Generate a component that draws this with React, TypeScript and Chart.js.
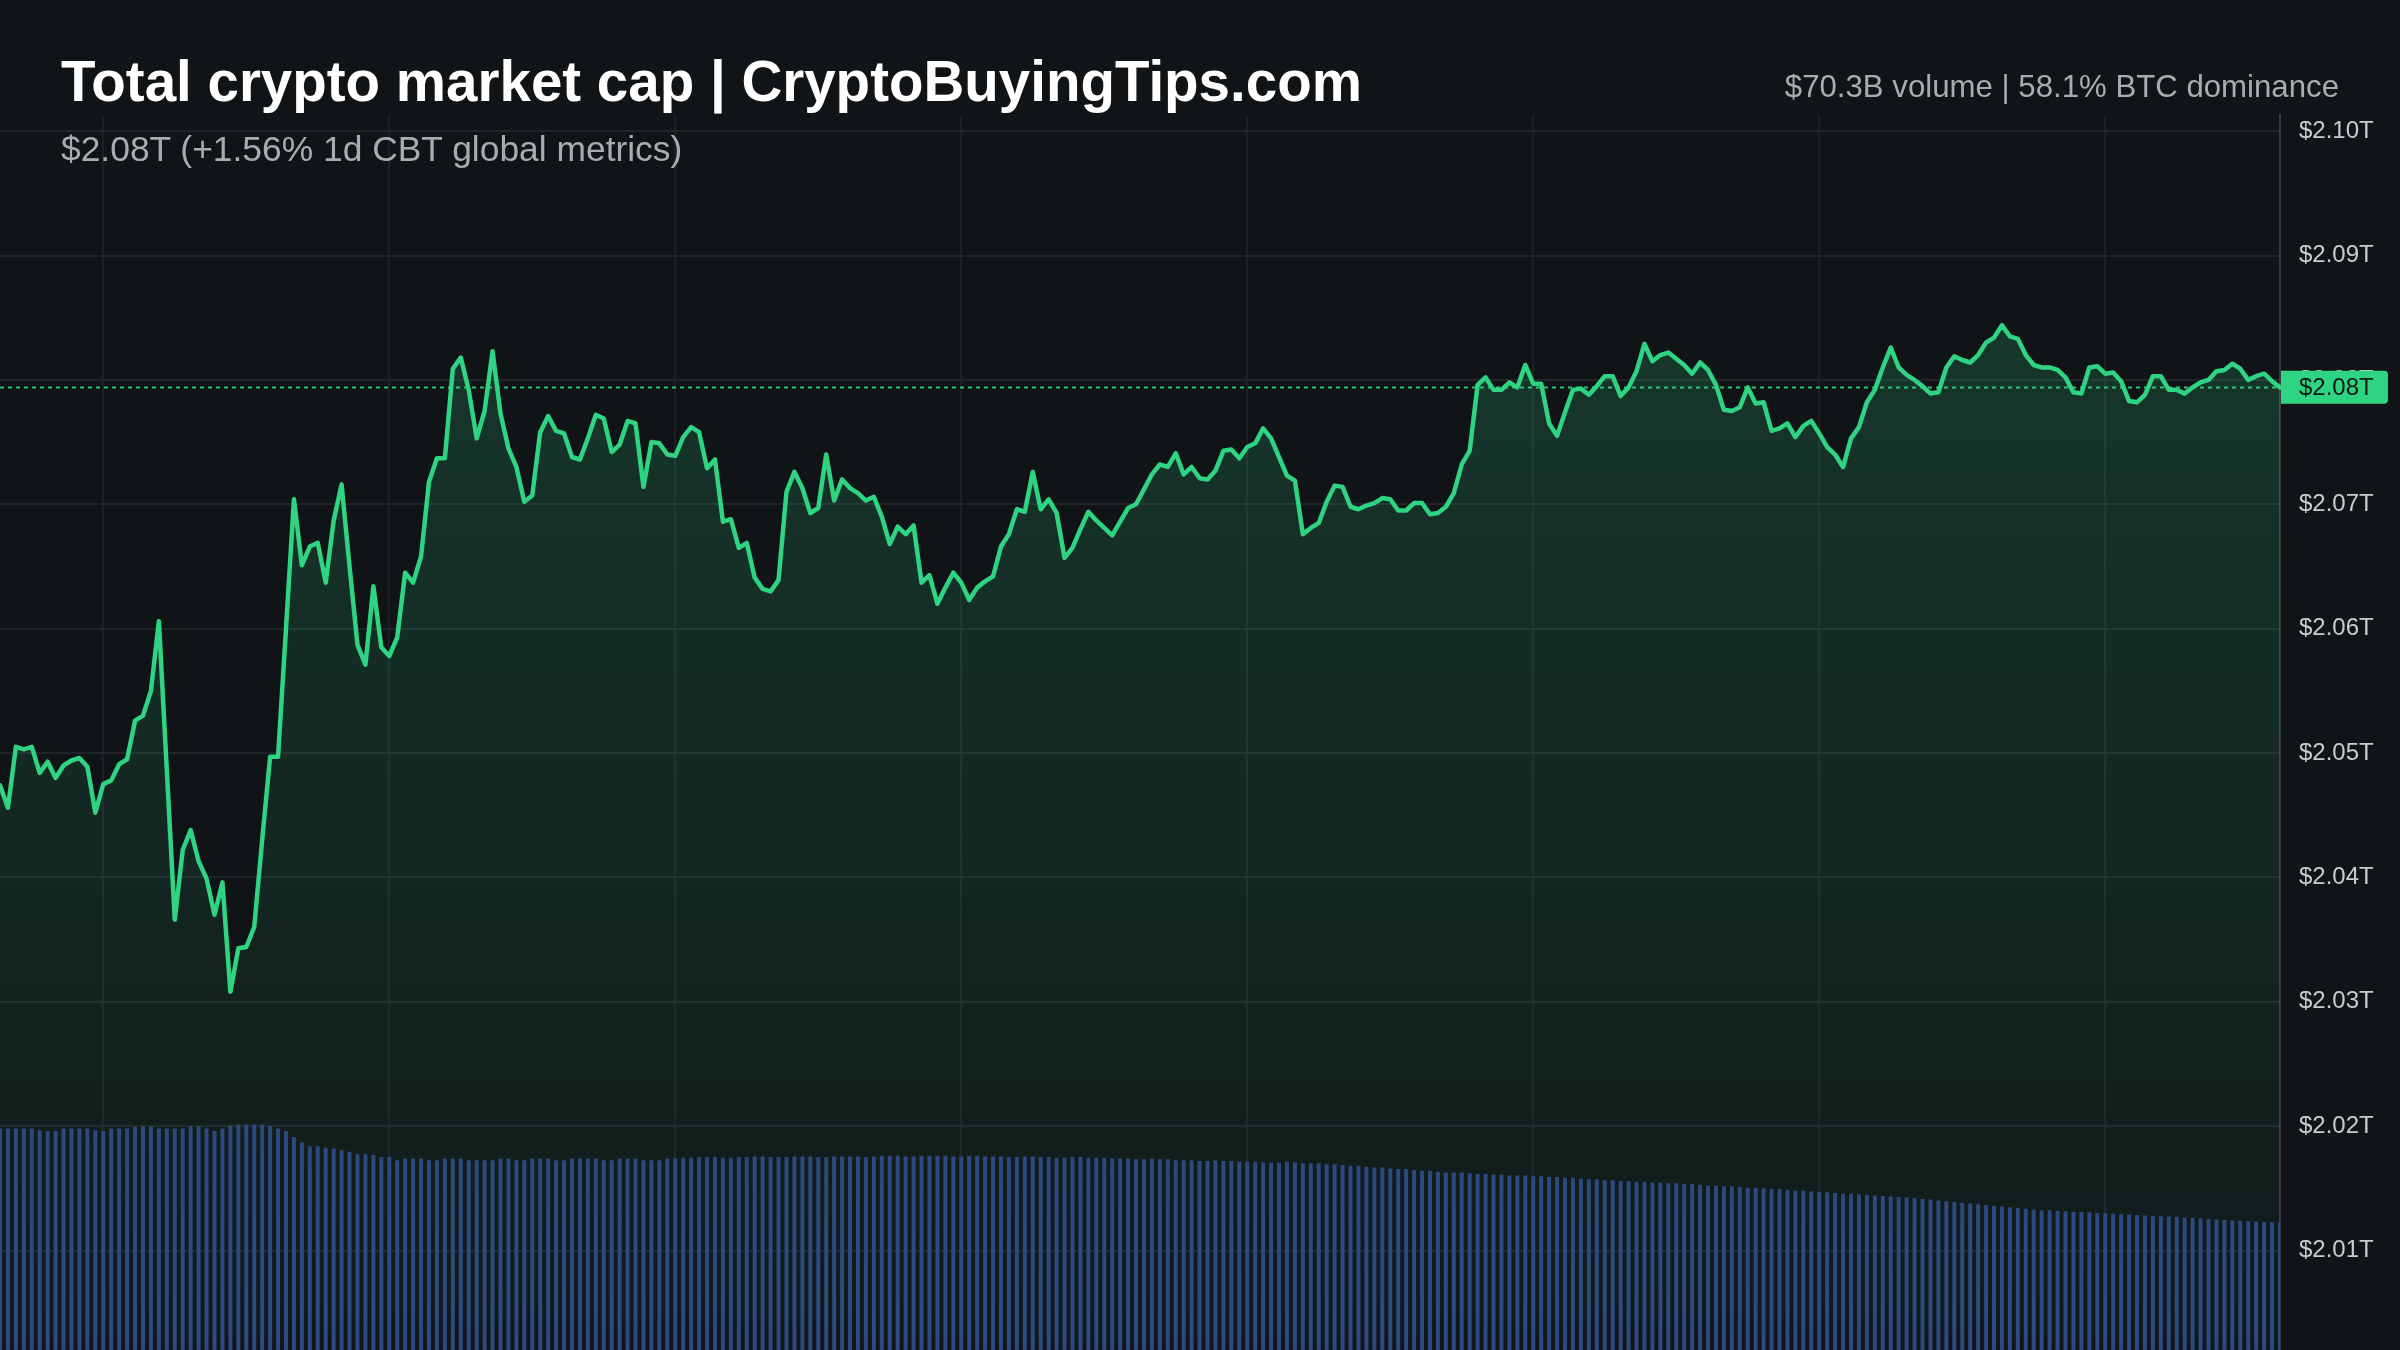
import React, { useEffect, useRef } from 'react';
import { Chart, registerables } from 'chart.js';

Chart.register(...registerables);

// ---- Data -----------------------------------------------------------------
const TITLE = 'Total crypto market cap | CryptoBuyingTips.com';
const SUBTITLE = '$2.08T (+1.56% 1d CBT global metrics)';
const RIGHT_INFO = '$70.3B volume | 58.1% BTC dominance';

// 5-minute samples over the last 24 hours, first sample at 22:55
const START_TIME_MIN = 22 * 60 + 55;
const STEP_MIN = 5;
const GRID_EVERY_MIN = 180;

// Total market cap, trillions USD
const marketCapT = [
  2.0474, 2.0456, 2.0505, 2.0503, 2.0505, 2.0484, 2.0493, 2.0480, 2.0490, 2.0494,
  2.0496, 2.0489, 2.0452, 2.0475, 2.0478, 2.0491, 2.0495, 2.0526, 2.0530, 2.0550,
  2.0606, 2.0486, 2.0366, 2.0422, 2.0438, 2.0413, 2.0399, 2.0370, 2.0396, 2.0308,
  2.0343, 2.0344, 2.0360, 2.0430, 2.0497, 2.0497, 2.0600, 2.0704, 2.0651, 2.0666,
  2.0669, 2.0637, 2.0687, 2.0716, 2.0650, 2.0587, 2.0571, 2.0634, 2.0585, 2.0578,
  2.0593, 2.0645, 2.0637, 2.0658, 2.0718, 2.0737, 2.0737, 2.0809, 2.0818, 2.0792,
  2.0753, 2.0775, 2.0823, 2.0773, 2.0745, 2.0730, 2.0702, 2.0707, 2.0758, 2.0771,
  2.0759, 2.0757, 2.0738, 2.0736, 2.0753, 2.0772, 2.0769, 2.0742, 2.0748, 2.0767,
  2.0765, 2.0714, 2.0750, 2.0749, 2.0740, 2.0739, 2.0754, 2.0762, 2.0758, 2.0729,
  2.0736, 2.0686, 2.0688, 2.0665, 2.0669, 2.0641, 2.0632, 2.0630, 2.0639, 2.0710,
  2.0726, 2.0713, 2.0693, 2.0697, 2.0740, 2.0703, 2.0720, 2.0713, 2.0709, 2.0703,
  2.0706, 2.0690, 2.0668, 2.0682, 2.0676, 2.0683, 2.0637, 2.0643, 2.0620, 2.0633,
  2.0645, 2.0637, 2.0623, 2.0633, 2.0638, 2.0642, 2.0666, 2.0676, 2.0696, 2.0694,
  2.0726, 2.0696, 2.0704, 2.0693, 2.0657, 2.0665, 2.0680, 2.0694, 2.0687, 2.0681,
  2.0675, 2.0686, 2.0697, 2.0700, 2.0712, 2.0724, 2.0732, 2.0730, 2.0741, 2.0724,
  2.0730, 2.0721, 2.0720, 2.0727, 2.0743, 2.0744, 2.0737, 2.0746, 2.0749, 2.0761,
  2.0753, 2.0738, 2.0723, 2.0719, 2.0676, 2.0681, 2.0685, 2.0702, 2.0715, 2.0714,
  2.0698, 2.0696, 2.0699, 2.0701, 2.0705, 2.0704, 2.0695, 2.0695, 2.0701, 2.0701,
  2.0692, 2.0693, 2.0698, 2.0709, 2.0732, 2.0743, 2.0796, 2.0802, 2.0792, 2.0792,
  2.0798, 2.0794, 2.0812, 2.0797, 2.0797, 2.0765, 2.0755, 2.0774, 2.0792, 2.0793,
  2.0788, 2.0795, 2.0803, 2.0803, 2.0787, 2.0794, 2.0807, 2.0829, 2.0815, 2.0820,
  2.0822, 2.0817, 2.0812, 2.0805, 2.0814, 2.0808, 2.0796, 2.0776, 2.0775, 2.0778,
  2.0794, 2.0781, 2.0782, 2.0759, 2.0761, 2.0765, 2.0754, 2.0763, 2.0767, 2.0757,
  2.0746, 2.0740, 2.0730, 2.0753, 2.0762, 2.0782, 2.0792, 2.0810, 2.0826, 2.0810,
  2.0804, 2.0800, 2.0795, 2.0789, 2.0790, 2.0810, 2.0819, 2.0816, 2.0814, 2.0820,
  2.0830, 2.0834, 2.0844, 2.0835, 2.0833, 2.0820, 2.0812, 2.0810, 2.0810, 2.0808,
  2.0802, 2.0790, 2.0789, 2.0810, 2.0811, 2.0805, 2.0806, 2.0799, 2.0783, 2.0782,
  2.0788, 2.0803, 2.0803, 2.0792, 2.0792, 2.0789, 2.0794, 2.0798, 2.0800, 2.0807,
  2.0808, 2.0813, 2.0809, 2.0800, 2.0803, 2.0805, 2.0799, 2.0794,
];

// Rolling 24h volume, billions USD
const volumeB = [
  121.9, 121.9, 121.9, 121.9, 121.9, 121.0, 120.6, 120.6, 121.9, 121.9,
  121.9, 121.9, 121.0, 120.6, 121.9, 121.9, 121.9, 122.8, 123.2, 123.2,
  121.9, 121.9, 121.9, 121.9, 123.2, 123.2, 121.9, 120.6, 121.9, 123.6,
  124.1, 124.1, 124.1, 124.1, 123.2, 121.9, 120.6, 117.3, 114.2, 112.2,
  112.2, 111.3, 110.9, 110.0, 109.1, 107.8, 107.8, 107.3, 106.3, 106.3,
  104.5, 105.4, 105.4, 105.4, 104.5, 104.5, 105.4, 105.4, 105.4, 104.5,
  104.5, 104.5, 104.5, 105.4, 105.4, 104.5, 104.5, 105.4, 105.4, 105.4,
  104.5, 104.5, 105.4, 105.4, 105.4, 105.4, 104.5, 104.5, 105.4, 105.4,
  105.4, 104.5, 104.5, 104.5, 105.4, 105.4, 105.8, 105.8, 106.2, 106.2,
  106.2, 105.8, 105.8, 106.2, 106.2, 106.6, 106.6, 106.2, 106.2, 106.2,
  106.6, 106.6, 106.6, 106.2, 106.2, 106.6, 106.6, 106.6, 106.6, 106.2,
  106.6, 107.0, 107.0, 107.0, 106.6, 106.6, 107.0, 107.0, 107.0, 107.0,
  106.6, 106.6, 107.0, 107.0, 106.6, 106.6, 106.6, 106.2, 106.2, 106.6,
  106.6, 106.2, 106.2, 105.8, 105.8, 106.2, 106.2, 105.8, 105.8, 105.8,
  105.4, 105.4, 105.4, 105.0, 105.0, 105.4, 105.0, 105.0, 104.5, 104.5,
  104.5, 104.1, 104.1, 104.5, 104.1, 104.1, 103.6, 103.6, 103.6, 103.2,
  103.2, 103.2, 103.6, 103.2, 102.8, 102.8, 102.8, 102.3, 102.3, 101.8,
  101.4, 101.4, 100.9, 100.5, 100.5, 100.0, 99.6, 99.6, 99.1, 98.7,
  98.7, 98.2, 97.8, 97.8, 97.8, 97.3, 96.9, 96.9, 96.5, 96.5,
  96.1, 96.1, 96.1, 95.6, 95.6, 95.2, 95.2, 94.8, 94.8, 94.4,
  94.0, 94.0, 93.5, 93.5, 93.1, 93.1, 92.7, 92.7, 92.2, 92.2,
  91.8, 91.8, 91.4, 91.4, 91.0, 90.6, 90.6, 90.2, 90.2, 89.8,
  89.4, 89.4, 89.0, 88.6, 88.6, 88.2, 87.8, 87.8, 87.3, 87.0,
  86.8, 86.5, 86.1, 86.1, 85.7, 85.4, 85.1, 84.8, 84.5, 84.2,
  84.0, 83.6, 83.2, 82.8, 82.3, 81.9, 81.5, 81.0, 80.6, 80.2,
  79.8, 79.4, 79.0, 78.6, 78.2, 77.8, 77.4, 77.0, 76.9, 76.6,
  76.4, 76.1, 76.0, 75.8, 75.5, 75.3, 75.0, 74.8, 74.6, 74.3,
  74.1, 73.9, 73.7, 73.5, 73.3, 73.0, 72.8, 72.5, 72.2, 71.9,
  71.6, 71.3, 71.1, 70.9, 70.7, 70.5, 70.4, 70.3,
];

// Right axis tick values (trillions)
const yTickValues = [2.01, 2.02, 2.03, 2.04, 2.05, 2.06, 2.07, 2.08, 2.09, 2.1];
const Y_MIN = 2.002;
const Y_MAX = 2.1013;
const VOLUME_AXIS_MAX = 680;

// ---- Styles ---------------------------------------------------------------
const BG = '#111417';
const GREEN = '#2fd483';
const BAR_BLUE = '#2d4a7e';
const GRID_H = '#202428';
const GRID_V = '#1c2024';
const AXIS_BORDER = '#383c42';
const TICK_COLOR = '#c8ccd2';
const FONT = '"Liberation Sans", Arial, Helvetica, sans-serif';

const pad = (n: number) => String(n).padStart(2, '0');
const minuteOf = (i: number) => (START_TIME_MIN + i * STEP_MIN) % 1440;
const labels = marketCapT.map((_, i) => {
  const m = minuteOf(i);
  return `${pad(Math.floor(m / 60))}:${pad(m % 60)}`;
});
const isGridIndex = (i: number) => minuteOf(i) % GRID_EVERY_MIN === 0;
const fmtT = (v: number) => `$${v.toFixed(2)}T`;

const lastValuePlugin = {
  id: 'lastValue',
  beforeDatasetsDraw(chart: any) {
    const { ctx, chartArea, scales } = chart;
    const last = marketCapT[marketCapT.length - 1];
    const y = Math.round(scales.y.getPixelForValue(last)) + 0.5;
    ctx.save();
    ctx.strokeStyle = 'rgba(47,212,131,0.9)';
    ctx.lineWidth = 2;
    ctx.setLineDash([4, 4]);
    ctx.beginPath();
    ctx.moveTo(chartArea.left, y);
    ctx.lineTo(chartArea.right, y);
    ctx.stroke();
    ctx.restore();
  },
  afterDraw(chart: any) {
    const { ctx, chartArea, scales } = chart;
    const last = marketCapT[marketCapT.length - 1];
    const y = scales.y.getPixelForValue(last);
    const x0 = chartArea.right + 1;
    const w = 107;
    const h = 33;
    ctx.save();
    ctx.fillStyle = GREEN;
    ctx.beginPath();
    if (ctx.roundRect) ctx.roundRect(x0, y - h / 2, w, h, [0, 4, 4, 0]);
    else ctx.rect(x0, y - h / 2, w, h);
    ctx.fill();
    ctx.fillStyle = '#0c1912';
    ctx.font = `24px ${FONT}`;
    ctx.textBaseline = 'middle';
    ctx.textAlign = 'left';
    ctx.fillText(fmtT(last), chartArea.right + 19, y + 1);
    ctx.restore();
  },
};

export default function App() {
  const canvasRef = useRef<HTMLCanvasElement>(null);

  useEffect(() => {
    const canvas = canvasRef.current;
    if (!canvas) return;
    const chart = new Chart(canvas, {
      type: 'bar',
      data: {
        labels,
        datasets: [
          {
            type: 'bar',
            label: 'Volume',
            data: volumeB,
            yAxisID: 'y2',
            backgroundColor: BAR_BLUE,
            barPercentage: 0.5,
            categoryPercentage: 1,
            order: 0,
          } as any,
          {
            type: 'line',
            label: 'Total market cap',
            data: marketCapT,
            yAxisID: 'y',
            borderColor: GREEN,
            borderWidth: 4.5,
            borderJoinStyle: 'round',
            borderCapStyle: 'round',
            pointRadius: 0,
            tension: 0,
            fill: 'start',
            backgroundColor: (c: any) => {
              const area = c.chart.chartArea;
              if (!area) return 'rgba(47,212,131,0.1)';
              const g = c.chart.ctx.createLinearGradient(0, area.top, 0, area.bottom);
              g.addColorStop(0, 'rgba(47,212,131,0.22)');
              g.addColorStop(1, 'rgba(47,212,131,0.02)');
              return g;
            },
            order: 1,
          } as any,
        ],
      },
      options: {
        responsive: false,
        animation: false,
        devicePixelRatio: 1,
        events: [],
        layout: { padding: { top: 115, left: 0, right: 0, bottom: 0 } },
        plugins: {
          legend: { display: false },
          tooltip: { enabled: false },
        },
        scales: {
          x: {
            type: 'category',
            offset: false,
            grid: {
              offset: false,
              drawTicks: false,
              lineWidth: 2,
              color: (c: any) => (isGridIndex(c.index) ? GRID_V : 'rgba(0,0,0,0)'),
            },
            border: { display: false },
            ticks: { display: false, autoSkip: false },
            afterFit: (s: any) => {
              s.height = 0;
              s.paddingLeft = 0;
              s.paddingRight = 0;
            },
          },
          y: {
            type: 'linear',
            position: 'right',
            min: Y_MIN,
            max: Y_MAX,
            afterBuildTicks: (s: any) => {
              s.ticks = yTickValues.map((v) => ({ value: v }));
            },
            grid: { color: GRID_H, lineWidth: 2, drawTicks: false },
            border: { display: true, color: AXIS_BORDER, width: 2 },
            ticks: {
              color: TICK_COLOR,
              padding: 19,
              font: { family: FONT, size: 24 },
              callback: (v: any) => fmtT(Number(v)),
            },
            afterFit: (s: any) => {
              s.width = 120;
              s.paddingTop = 0;
              s.paddingBottom = 0;
            },
          },
          y2: {
            type: 'linear',
            display: false,
            min: 0,
            max: VOLUME_AXIS_MAX,
          },
        },
      } as any,
      plugins: [lastValuePlugin],
    });
    return () => chart.destroy();
  }, []);

  return (
    <div
      style={{
        position: 'fixed',
        left: 0,
        top: 0,
        width: 2400,
        height: 1350,
        background: BG,
        overflow: 'hidden',
        fontFamily: FONT,
      }}
    >
      <canvas
        ref={canvasRef}
        width={2400}
        height={1350}
        style={{ position: 'absolute', left: 0, top: 0, width: 2400, height: 1350, display: 'block' }}
      />
      <div
        style={{
          position: 'absolute',
          left: 61,
          top: 54,
          fontSize: 56.5,
          lineHeight: 1,
          fontWeight: 700,
          color: '#ffffff',
          whiteSpace: 'nowrap',
        }}
      >
        {TITLE}
      </div>
      <div
        style={{
          position: 'absolute',
          left: 61,
          top: 132,
          fontSize: 35.4,
          lineHeight: 1,
          color: '#a7acb4',
          whiteSpace: 'nowrap',
        }}
      >
        {SUBTITLE}
      </div>
      <div
        style={{
          position: 'absolute',
          right: 61,
          top: 71,
          fontSize: 31.2,
          lineHeight: 1,
          color: '#a7acb4',
          whiteSpace: 'nowrap',
          textAlign: 'right',
        }}
      >
        {RIGHT_INFO}
      </div>
    </div>
  );
}
